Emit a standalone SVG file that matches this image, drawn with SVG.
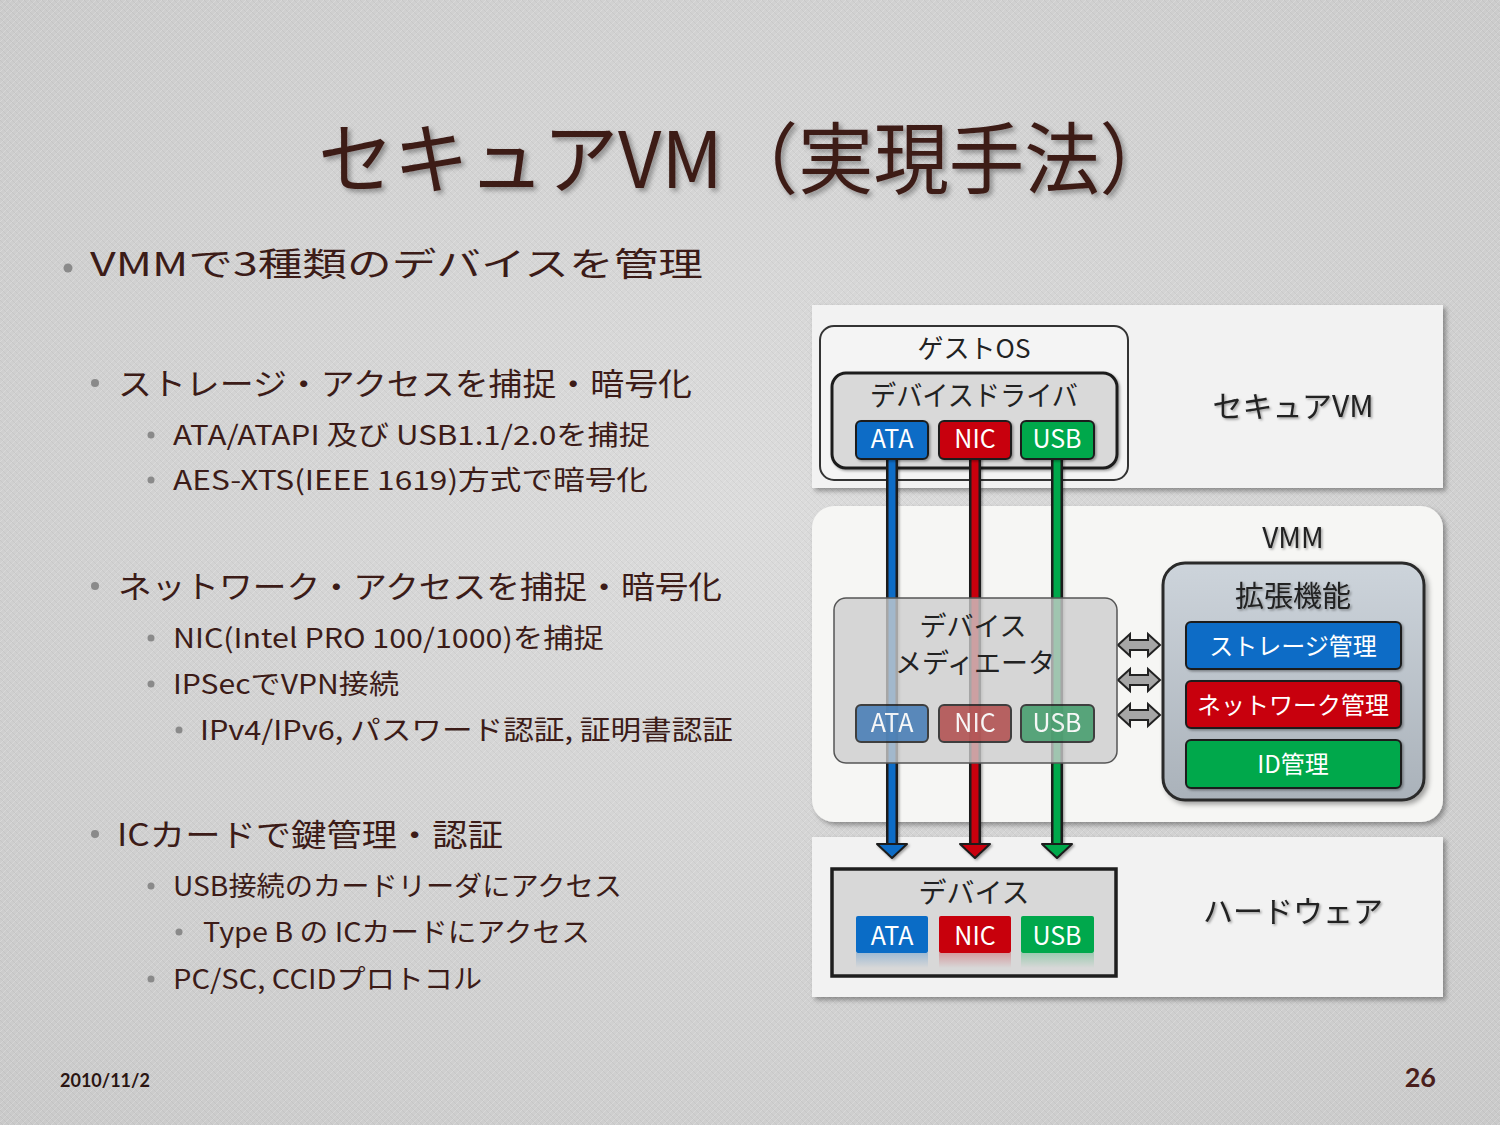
<svg xmlns="http://www.w3.org/2000/svg" width="1500" height="1125" viewBox="0 0 1500 1125">
<defs>
<radialGradient id="bg" cx="50%" cy="45%" r="75%">
<stop offset="0" stop-color="#dcdcdc"/>
<stop offset="1" stop-color="#cacaca"/>
</radialGradient>
<pattern id="tex" width="6" height="6" patternUnits="userSpaceOnUse">
<path d="M0 6 L6 0" stroke="#ffffff" stroke-opacity="0.18" stroke-width="1"/>
<path d="M0 0 L6 6" stroke="#000000" stroke-opacity="0.04" stroke-width="1"/>
</pattern>
<linearGradient id="extg" x1="0" y1="0" x2="0" y2="1">
<stop offset="0" stop-color="#cdd4db"/>
<stop offset="1" stop-color="#aab2ba"/>
</linearGradient>
<linearGradient id="refl" x1="0" y1="0" x2="0" y2="1">
<stop offset="0" stop-color="#d8d8d8" stop-opacity="0.45"/>
<stop offset="1" stop-color="#d8d8d8" stop-opacity="1"/>
</linearGradient>
<filter id="tsh" x="-5%" y="-20%" width="110%" height="140%">
<feDropShadow dx="3" dy="3" stdDeviation="2.5" flood-color="#000" flood-opacity="0.35"/>
</filter>
<filter id="psh" x="-5%" y="-5%" width="110%" height="115%">
<feDropShadow dx="3" dy="3" stdDeviation="2.5" flood-color="#000" flood-opacity="0.35"/>
</filter>
<filter id="lsh" x="-20%" y="-20%" width="140%" height="140%">
<feDropShadow dx="1.5" dy="1.5" stdDeviation="1" flood-color="#000" flood-opacity="0.35"/>
</filter>
<symbol id="dbl" viewBox="0 0 44 24" overflow="visible">
<path d="M1 12 L13 1 L13 7 L31 7 L31 1 L43 12 L31 23 L31 17 L13 17 L13 23 Z" fill="#a6a6a6" stroke="#222" stroke-width="2" stroke-linejoin="miter"/>
</symbol>
</defs>
<style>
.body{font-family:"Noto Sans CJK JP","Noto Sans",sans-serif;fill:#3c1c18;}
.bul{fill:#8a8a8a;}
.lbl{font-family:"Noto Sans CJK JP","Noto Sans",sans-serif;fill:#222;text-anchor:middle;}
.wht{font-family:"Noto Sans CJK JP","Noto Sans",sans-serif;fill:#ffffff;text-anchor:middle;}
.panel{fill:#f2f2f2;filter:url(#psh);}
.btn{stroke:#1e1e1e;stroke-width:2;}
.blue{fill:#0a6cc6;}
.red{fill:#c8000c;}
.green{fill:#00a84c;}
</style>

<rect width="1500" height="1125" fill="url(#bg)"/>
<rect width="1500" height="1125" fill="url(#tex)"/>

<!-- Title -->
<text x="318" y="188" class="body" font-size="78" fill="#4a221e" filter="url(#tsh)" textLength="857" lengthAdjust="spacingAndGlyphs">セキュアVM（実現手法）</text>

<!-- Bullets -->
<g id="bullets">
<circle class="bul" cx="68" cy="268" r="4.5"/>
<text x="90" y="276" class="body" font-size="33" textLength="613" lengthAdjust="spacingAndGlyphs">VMMで3種類のデバイスを管理</text>

<circle class="bul" cx="95" cy="383" r="4"/>
<text x="118" y="395" class="body" font-size="31" textLength="574" lengthAdjust="spacingAndGlyphs">ストレージ・アクセスを捕捉・暗号化</text>
<circle class="bul" cx="151" cy="435" r="3.5"/>
<text x="173" y="445" class="body" font-size="27" textLength="477" lengthAdjust="spacingAndGlyphs">ATA/ATAPI 及び USB1.1/2.0を捕捉</text>
<circle class="bul" cx="151" cy="480" r="3.5"/>
<text x="173" y="490" class="body" font-size="27" textLength="475" lengthAdjust="spacingAndGlyphs">AES-XTS(IEEE 1619)方式で暗号化</text>

<circle class="bul" cx="95" cy="586" r="4"/>
<text x="118" y="598" class="body" font-size="31" textLength="604" lengthAdjust="spacingAndGlyphs">ネットワーク・アクセスを捕捉・暗号化</text>
<circle class="bul" cx="151" cy="638" r="3.5"/>
<text x="173" y="648" class="body" font-size="27" textLength="431" lengthAdjust="spacingAndGlyphs">NIC(Intel PRO 100/1000)を捕捉</text>
<circle class="bul" cx="151" cy="684" r="3.5"/>
<text x="173" y="694" class="body" font-size="27" textLength="226" lengthAdjust="spacingAndGlyphs">IPSecでVPN接続</text>
<circle class="bul" cx="179" cy="730" r="3.5"/>
<text x="200" y="740" class="body" font-size="27" textLength="533" lengthAdjust="spacingAndGlyphs">IPv4/IPv6, パスワード認証, 証明書認証</text>

<circle class="bul" cx="95" cy="834" r="4"/>
<text x="117" y="846" class="body" font-size="31" textLength="386" lengthAdjust="spacingAndGlyphs">ICカードで鍵管理・認証</text>
<circle class="bul" cx="151" cy="886" r="3.5"/>
<text x="173" y="896" class="body" font-size="27" textLength="449" lengthAdjust="spacingAndGlyphs">USB接続のカードリーダにアクセス</text>
<circle class="bul" cx="179" cy="932" r="3.5"/>
<text x="203" y="942" class="body" font-size="27" textLength="387" lengthAdjust="spacingAndGlyphs">Type B の ICカードにアクセス</text>
<circle class="bul" cx="151" cy="979" r="3.5"/>
<text x="173" y="989" class="body" font-size="27" textLength="309" lengthAdjust="spacingAndGlyphs">PC/SC, CCIDプロトコル</text>
</g>

<!-- Footer -->
<text x="60" y="1087" font-family="Lato, 'Noto Sans', sans-serif" font-weight="bold" font-size="18" fill="#2a1512">2010/11/2</text>
<text x="1436" y="1087" text-anchor="end" font-family="Lato, 'Noto Sans', sans-serif" font-weight="bold" font-size="27" fill="#4a1f1c">26</text>

<!-- Panels -->
<g id="secure-vm">
<rect class="panel" x="812" y="305" width="631" height="183"/>
<text x="1293" y="417" class="lbl" font-size="30" filter="url(#lsh)">セキュアVM</text>
</g>
<g id="vmm">
<rect x="812" y="506" width="631" height="316" rx="22" fill="#f6f6f4" filter="url(#psh)"/>
<text x="1293" y="548" class="lbl" font-size="28" filter="url(#lsh)">VMM</text>
</g>
<g id="hardware">
<rect class="panel" x="812" y="837" width="631" height="160"/>
<text x="1293" y="922" class="lbl" font-size="30" filter="url(#lsh)">ハードウェア</text>
</g>

<!-- Guest OS -->
<g id="guest-os">
<rect x="820" y="326" width="308" height="154" rx="14" fill="#f4f4f4" stroke="#333" stroke-width="2"/>
<text x="974" y="358" class="lbl" font-size="26">ゲストOS</text>
</g>
<g id="device-driver">
<rect x="832" y="373" width="285" height="95" rx="14" fill="#d9d9d9" stroke="#1e1e1e" stroke-width="3" filter="url(#lsh)"/>
<text x="974" y="406" class="lbl" font-size="28" textLength="208" lengthAdjust="spacingAndGlyphs">デバイスドライバ</text>
</g>

<!-- Extension functions -->
<g id="extension">
<rect x="1163" y="563" width="261" height="237" rx="22" fill="url(#extg)" stroke="#2a2a2a" stroke-width="3" filter="url(#psh)"/>
<text x="1293" y="607" class="lbl" font-size="29" filter="url(#lsh)">拡張機能</text>
</g>
<g id="storage-mgmt">
<rect x="1186" y="622" width="215" height="47" rx="5" class="btn blue" filter="url(#lsh)"/>
<text x="1293" y="655" class="wht" font-size="24">ストレージ管理</text>
</g>
<g id="network-mgmt">
<rect x="1186" y="681" width="215" height="47" rx="5" class="btn red" filter="url(#lsh)"/>
<text x="1293" y="714" class="wht" font-size="24">ネットワーク管理</text>
</g>
<g id="id-mgmt">
<rect x="1186" y="740" width="215" height="48" rx="5" class="btn green" filter="url(#lsh)"/>
<text x="1293" y="773" class="wht" font-size="24">ID管理</text>
</g>

<!-- Hardware devices -->
<g id="device">
<rect x="832" y="869" width="284" height="107" fill="#d8d8d8" stroke="#1e1e1e" stroke-width="3.5"/>
<text x="974" y="903" class="lbl" font-size="28">デバイス</text>
</g>
<g id="hw-ata">
<rect x="856" y="916" width="72" height="37" rx="2" class="blue"/>
<rect x="856" y="953" width="72" height="15" class="blue" opacity="0.5"/>
<rect x="856" y="953" width="72" height="15" fill="url(#refl)"/>
<text x="892" y="945" class="wht" font-size="25">ATA</text>
</g>
<g id="hw-nic">
<rect x="939" y="916" width="72" height="37" rx="2" class="red"/>
<rect x="939" y="953" width="72" height="15" class="red" opacity="0.5"/>
<rect x="939" y="953" width="72" height="15" fill="url(#refl)"/>
<text x="975" y="945" class="wht" font-size="25">NIC</text>
</g>
<g id="hw-usb">
<rect x="1021" y="916" width="73" height="37" rx="2" class="green"/>
<rect x="1021" y="953" width="73" height="15" class="green" opacity="0.5"/>
<rect x="1021" y="953" width="73" height="15" fill="url(#refl)"/>
<text x="1057" y="945" class="wht" font-size="25">USB</text>
</g>

<!-- Connectors -->
<g id="connectors">
<g filter="url(#lsh)">
<line x1="892" y1="455" x2="892" y2="846" stroke="#1a1a1a" stroke-width="12"/>
<line x1="892" y1="455" x2="892" y2="848" stroke="#0a6cc6" stroke-width="7"/>
<polygon points="877,844 907,844 892,858" fill="#0a6cc6" stroke="#1a1a1a" stroke-width="2" stroke-linejoin="round"/>
<line x1="975" y1="455" x2="975" y2="846" stroke="#1a1a1a" stroke-width="12"/>
<line x1="975" y1="455" x2="975" y2="848" stroke="#c8000c" stroke-width="7"/>
<polygon points="960,844 990,844 975,858" fill="#c8000c" stroke="#1a1a1a" stroke-width="2" stroke-linejoin="round"/>
<line x1="1057" y1="455" x2="1057" y2="846" stroke="#1a1a1a" stroke-width="12"/>
<line x1="1057" y1="455" x2="1057" y2="848" stroke="#00a84c" stroke-width="7"/>
<polygon points="1042,844 1072,844 1057,858" fill="#00a84c" stroke="#1a1a1a" stroke-width="2" stroke-linejoin="round"/>
</g>
<use href="#dbl" x="1117" y="633" width="44" height="24"/>
<use href="#dbl" x="1117" y="668" width="44" height="24"/>
<use href="#dbl" x="1117" y="703" width="44" height="24"/>
</g>

<!-- Driver buttons -->
<g id="drv-ata">
<rect x="856" y="421" width="72" height="38" rx="5" class="btn blue" filter="url(#lsh)"/>
<text x="892" y="448" class="wht" font-size="25">ATA</text>
</g>
<g id="drv-nic">
<rect x="939" y="421" width="72" height="38" rx="5" class="btn red" filter="url(#lsh)"/>
<text x="975" y="448" class="wht" font-size="25">NIC</text>
</g>
<g id="drv-usb">
<rect x="1021" y="421" width="73" height="38" rx="5" class="btn green" filter="url(#lsh)"/>
<text x="1057" y="448" class="wht" font-size="25">USB</text>
</g>

<!-- Device mediator -->
<g id="mediator">
<rect x="834" y="598" width="283" height="165" rx="12" fill="#cdcdcd" fill-opacity="0.78" stroke="#555" stroke-width="1.5"/>
<text x="973" y="636" class="lbl" font-size="27">デバイス</text>
<text x="975" y="673" class="lbl" font-size="27">メディエータ</text>
</g>
<g id="med-ata" opacity="0.82">
<rect x="856" y="705" width="72" height="37" rx="5" fill="#3e78b4" stroke="#1e1e1e" stroke-width="2"/>
<text x="892" y="732" class="wht" font-size="25">ATA</text>
</g>
<g id="med-nic" opacity="0.82">
<rect x="939" y="705" width="72" height="37" rx="5" fill="#b04848" stroke="#1e1e1e" stroke-width="2"/>
<text x="975" y="732" class="wht" font-size="25">NIC</text>
</g>
<g id="med-usb" opacity="0.82">
<rect x="1021" y="705" width="73" height="37" rx="5" fill="#3c9a66" stroke="#1e1e1e" stroke-width="2"/>
<text x="1057" y="732" class="wht" font-size="25">USB</text>
</g>
</svg>
